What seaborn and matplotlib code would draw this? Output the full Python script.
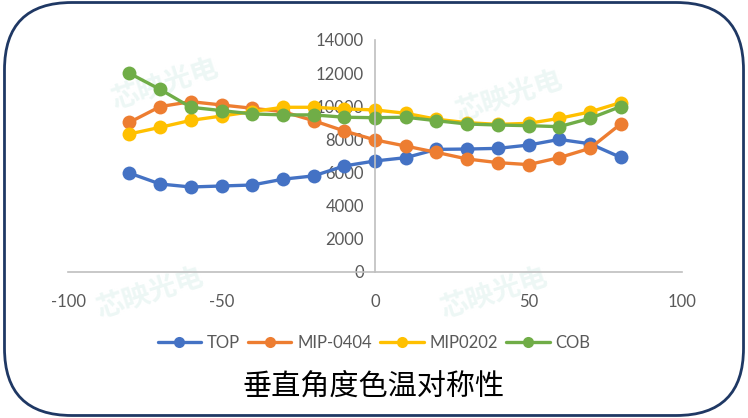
import pandas as pd
import numpy as np
import matplotlib
matplotlib.use("Agg")
import matplotlib.pyplot as plt
import seaborn as sns
from matplotlib.patches import FancyBboxPatch

# data
angles = [-80, -70, -60, -50, -40, -30, -20, -10, 0, 10, 20, 30, 40, 50, 60, 70, 80]
top = [5970, 5310, 5130, 5190, 5250, 5600, 5800, 6400, 6700, 6900, 7400, 7420, 7460, 7660, 8000, 7740, 6920]
mip0404 = [9030, 9980, 10280, 10080, 9880, 9680, 9130, 8510, 7970, 7600, 7220, 6820, 6600, 6480, 6900, 7460, 8930]
mip0202 = [8330, 8730, 9150, 9410, 9680, 9940, 9940, 9840, 9780, 9580, 9220, 9010, 8910, 8970, 9270, 9660, 10220]
cob = [11990, 11020, 9940, 9740, 9540, 9480, 9480, 9340, 9310, 9340, 9130, 8930, 8870, 8830, 8770, 9270, 9980]

series_names = ["TOP", "MIP-0404", "MIP0202", "COB"]
colors = ["#4472C4", "#ED7D31", "#FFC000", "#70AD47"]
x_ticks = [-100, -50, 0, 50, 100]
y_ticks = [0, 2000, 4000, 6000, 8000, 10000, 12000, 14000]
title = "垂直角度色温对称性"

df = pd.DataFrame({
    "angle": angles * 4,
    "cct": top + mip0404 + mip0202 + cob,
    "type": sum([[n] * len(angles) for n in series_names], []),
})

sns.set_style("white")
plt.rcParams["font.family"] = ["Lato", "Noto Sans CJK SC", "DejaVu Sans"]
plt.rcParams["axes.unicode_minus"] = False

fig = plt.figure(figsize=(7.48, 4.18), dpi=100)

# rounded frame around the whole picture
frame = FancyBboxPatch((0.006, 0.006), 0.988, 0.988, transform=fig.transFigure,
                       boxstyle="round,pad=0,rounding_size=0.09",
                       facecolor="none", edgecolor="#1F3864", linewidth=2,
                       mutation_aspect=748 / 418, zorder=-10)
fig.patches.append(frame)

# faint watermarks
for wx, wy in [(0.22, 0.80), (0.68, 0.77), (0.20, 0.30), (0.66, 0.30)]:
    fig.text(wx, wy, "芯映光电", fontsize=20, color="#EDF7F5", rotation=18,
             family=["Noto Sans CJK SC"], weight="bold", ha="center", va="center",
             zorder=-5)

ax = fig.add_axes([68 / 748, 1 - 272 / 418, 614 / 748, 232 / 418])
ax.patch.set_alpha(0)

sns.lineplot(data=df, x="angle", y="cct", hue="type", palette=colors,
             hue_order=series_names, marker="o", markersize=10,
             markeredgewidth=0, linewidth=2.4, ax=ax)

ax.set_xlim(-100, 100)
ax.set_ylim(0, 14000)
ax.set_xticks(x_ticks)
ax.set_yticks(y_ticks)
ax.set_xlabel("")
ax.set_ylabel("")

for s in ["top", "right"]:
    ax.spines[s].set_visible(False)
ax.spines["left"].set_position(("data", 0))
for s in ["left", "bottom"]:
    ax.spines[s].set_color("#BFBFBF")
    ax.spines[s].set_linewidth(1.2)

ax.tick_params(axis="both", length=0, labelsize=12, colors="#595959")
ax.tick_params(axis="x", pad=16)
ax.tick_params(axis="y", pad=8)

handles, labels = ax.get_legend_handles_labels()
ax.get_legend().remove()
fig.legend(handles, labels, loc="center", bbox_to_anchor=(0.5, 1 - 343 / 418),
           ncol=4, frameon=False, fontsize=12, handlelength=2.6,
           columnspacing=0.5, handletextpad=0.35, labelcolor="#595959",
           markerscale=0.8)

fig.text(0.5, 1 - 387 / 418, title, ha="center", va="center", fontsize=21,
         color="black", family=["Noto Sans CJK SC", "DejaVu Sans"])

fig.savefig("out.png", dpi=100)
